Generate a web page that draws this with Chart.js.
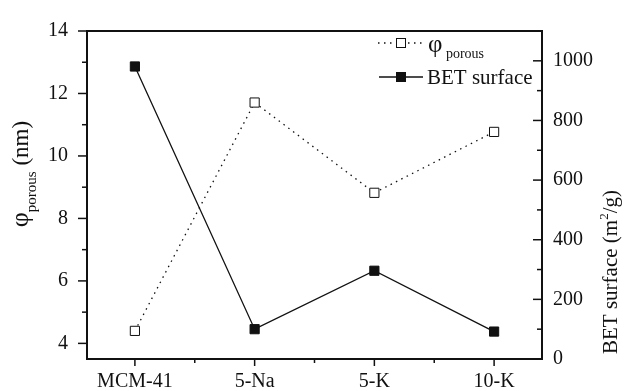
<!DOCTYPE html>
<html>
<head>
<meta charset="utf-8">
<script src="https://cdn.jsdelivr.net/npm/chart.js@4.4.0/dist/chart.umd.min.js"></script>
<style>
  html, body { margin: 0; padding: 0; background: #fff; }
  #wrap { width: 624px; height: 391px; }
</style>
</head>
<body>
<div id="wrap"><canvas id="chart"></canvas></div>
<script>
// samples on the x axis, one point each
const categories = ["MCM-41", "5-Na", "5-K", "10-K"];
// pore diameter (nm), left axis
const phiPorous = [4.40, 11.71, 8.82, 10.77];
// BET surface area (m2/g), right axis
const betSurface = [981, 100, 296, 92];

const leftTicks = [4, 6, 8, 10, 12, 14];
const leftMinor = [5, 7, 9, 11, 13];
const rightTicks = [0, 200, 400, 600, 800, 1000];
const rightMinor = [100, 300, 500, 700, 900];
const xTicks = [0, 1, 2, 3];
const xMinor = [0.5, 1.5, 2.5];

const FONT = "Liberation Serif";
const INK = "#111";
const DOTS = [1.5, 4.5];

function line(ctx, x1, y1, x2, y2) {
  ctx.beginPath();
  ctx.moveTo(x1, y1);
  ctx.lineTo(x2, y2);
  ctx.stroke();
}

function square(ctx, x, y, fill) {
  ctx.fillStyle = fill;
  ctx.fillRect(x - 4.5, y - 4.5, 9, 9);
  ctx.lineWidth = 1;
  ctx.strokeRect(x - 4.5, y - 4.5, 9, 9);
}

// draws pieces of text one after another, each with its own size and baseline shift
function runs(ctx, parts, x, y) {
  let cx = x;
  for (const p of parts) {
    ctx.font = p.size + "px '" + FONT + "'";
    ctx.fillText(p.text, cx, y + (p.dy || 0));
    cx += ctx.measureText(p.text).width;
  }
  return cx - x;
}

function runsWidth(ctx, parts) {
  let w = 0;
  for (const p of parts) {
    ctx.font = p.size + "px '" + FONT + "'";
    w += ctx.measureText(p.text).width;
  }
  return w;
}

// frame, tick marks, legend and axis titles
const decor = {
  id: "decor",
  afterDraw(chart) {
    const { ctx, chartArea: a, scales } = chart;
    ctx.save();
    ctx.strokeStyle = INK;
    ctx.fillStyle = INK;

    // top edge of the frame
    ctx.lineWidth = 2;
    line(ctx, a.left - 1, a.top, a.right + 1, a.top);

    // left: outward ticks
    ctx.lineWidth = 1.5;
    leftTicks.forEach(v => { const y = scales.y.getPixelForValue(v); line(ctx, a.left - 9, y, a.left, y); });
    leftMinor.forEach(v => { const y = scales.y.getPixelForValue(v); line(ctx, a.left - 5, y, a.left, y); });
    // bottom: outward ticks
    xTicks.forEach(v => { const x = scales.x.getPixelForValue(v); line(ctx, x, a.bottom, x, a.bottom + 7); });
    xMinor.forEach(v => { const x = scales.x.getPixelForValue(v); line(ctx, x, a.bottom, x, a.bottom + 4); });
    // right: inward ticks
    rightTicks.forEach(v => { const y = scales.y1.getPixelForValue(v); line(ctx, a.right - 9, y, a.right, y); });
    rightMinor.forEach(v => { const y = scales.y1.getPixelForValue(v); line(ctx, a.right - 5, y, a.right, y); });

    // legend
    ctx.textBaseline = "alphabetic";
    ctx.textAlign = "left";
    ctx.lineWidth = 1.3;
    ctx.setLineDash(DOTS);
    line(ctx, 378, 43, 426, 43);
    ctx.setLineDash([]);
    square(ctx, 401, 43, "#fff");
    ctx.fillStyle = INK;
    runs(ctx, [{ text: "φ", size: 25 }, { text: " porous", size: 14, dy: 6 }], 428, 52);

    ctx.lineWidth = 1.3;
    line(ctx, 379, 77, 423, 77);
    square(ctx, 401, 77, INK);
    ctx.fillStyle = INK;
    runs(ctx, [{ text: "BET surface", size: 21 }], 427, 84);

    // left axis title, rotated, with subscript
    const leftTitle = [{ text: "φ", size: 26 }, { text: "porous", size: 15, dy: 8 }, { text: " (nm)", size: 23 }];
    ctx.save();
    ctx.translate(28, 174);
    ctx.rotate(-Math.PI / 2);
    runs(ctx, leftTitle, -runsWidth(ctx, leftTitle) / 2, 0);
    ctx.restore();

    // right axis title, rotated, with superscript
    const rightTitle = [{ text: "BET surface (m", size: 21 }, { text: "2", size: 13, dy: -9 }, { text: "/g)", size: 21 }];
    ctx.save();
    ctx.translate(617, 272);
    ctx.rotate(-Math.PI / 2);
    runs(ctx, rightTitle, -runsWidth(ctx, rightTitle) / 2, 0);
    ctx.restore();

    ctx.restore();
  }
};

const tickFont = { family: FONT, size: 20 };

new Chart(document.getElementById("chart"), {
  type: "line",
  data: {
    datasets: [
      {
        label: "φ porous",
        data: phiPorous.map((v, i) => ({ x: i, y: v })),
        yAxisID: "y",
        borderColor: INK,
        borderWidth: 1.3,
        borderDash: DOTS,
        pointStyle: "rect",
        pointRadius: 6.5,
        pointBorderWidth: 1,
        pointBorderColor: INK,
        pointBackgroundColor: "#fff",
        fill: false,
        tension: 0,
      },
      {
        label: "BET surface",
        data: betSurface.map((v, i) => ({ x: i, y: v })),
        yAxisID: "y1",
        borderColor: INK,
        borderWidth: 1.3,
        pointStyle: "rect",
        pointRadius: 6.5,
        pointBorderWidth: 1,
        pointBorderColor: INK,
        pointBackgroundColor: INK,
        fill: false,
        tension: 0,
      },
    ],
  },
  options: {
    responsive: true,
    maintainAspectRatio: false,
    devicePixelRatio: 1,
    animation: false,
    layout: { padding: { top: 20, left: 0, right: 0, bottom: 0 } },
    plugins: { legend: { display: false }, tooltip: { enabled: false } },
    scales: {
      x: {
        type: "linear",
        min: -0.4,
        max: 3.4,
        afterBuildTicks: s => { s.ticks = xTicks.map(v => ({ value: v })); },
        afterFit: s => { s.height = 32; },
        grid: { display: false, drawTicks: false },
        border: { color: INK, width: 2 },
        ticks: { font: tickFont, color: INK, padding: 11, maxRotation: 0, autoSkip: false, callback: v => categories[v] },
      },
      y: {
        position: "left",
        min: 3.5,
        max: 14,
        afterBuildTicks: s => { s.ticks = leftTicks.map(v => ({ value: v })); },
        afterFit: s => { s.width = 87; },
        grid: { display: false, drawTicks: false },
        border: { color: INK, width: 2 },
        ticks: { font: tickFont, color: INK, padding: 19, callback: v => String(v) },
      },
      y1: {
        position: "right",
        min: 0,
        max: 1100,
        afterBuildTicks: s => { s.ticks = rightTicks.map(v => ({ value: v })); },
        afterFit: s => { s.width = 82; },
        grid: { display: false, drawTicks: false },
        border: { color: INK, width: 2 },
        ticks: { font: tickFont, color: INK, padding: 11, callback: v => String(v) },
      },
    },
  },
  plugins: [decor],
});
</script>
</body>
</html>
